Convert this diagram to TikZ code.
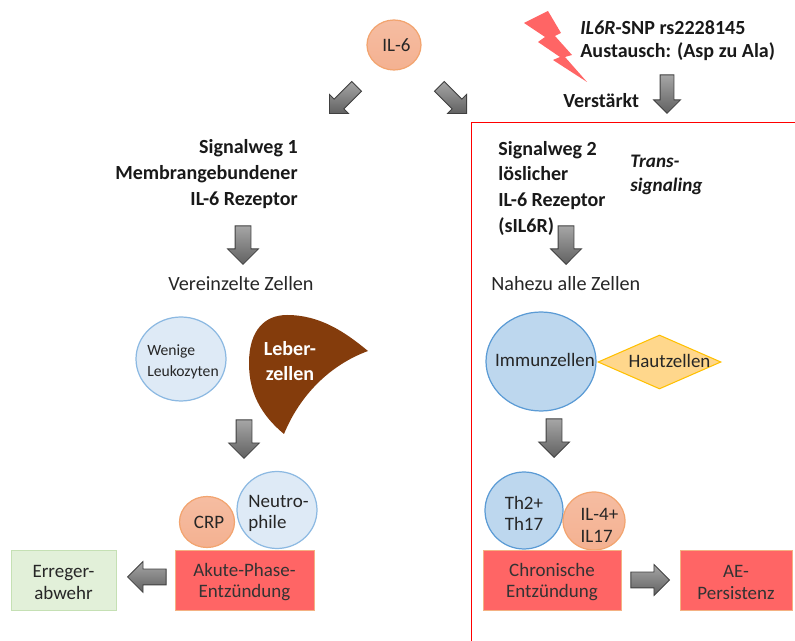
\documentclass[tikz,border=0pt]{standalone}
\usepackage{fontspec}
\setmainfont{Carlito}
\usetikzlibrary{shapes.geometric,shapes.arrows}
\definecolor{ocker}{RGB}{237,125,49}
\definecolor{lachs}{RGB}{244,177,145}
\definecolor{hellblau}{RGB}{222,234,246}
\definecolor{mittelblau}{RGB}{189,215,238}
\definecolor{randblau}{RGB}{140,185,226}
\definecolor{randmittel}{RGB}{91,155,213}
\definecolor{rot}{RGB}{255,101,101}
\definecolor{randrot}{RGB}{244,177,131}
\definecolor{braun}{RGB}{132,60,12}
\definecolor{gruen}{RGB}{226,240,217}
\definecolor{randgruen}{RGB}{197,224,180}
\definecolor{gelb}{RGB}{255,215,140}
\definecolor{randgelb}{RGB}{255,192,0}
\definecolor{schrift}{RGB}{38,38,38}
\newcommand{\tief}[1]{\rule{0pt}{#1cm}}
\tikzset{
  normal/.style={text=schrift,font=\fontsize{10.8}{12.2}\selectfont,align=center,inner sep=0pt},
  fett/.style={normal,font=\fontsize{11.4}{14}\selectfont\bfseries,text=black!90},
  zelle/.style={normal,ellipse,draw,line width=0.7pt,minimum width=#1,inner sep=-0.7cm},
  orangezelle/.style={zelle=#1,draw=ocker!70,top color=lachs!85!white,bottom color=lachs},
  hellzelle/.style={zelle=#1,draw=randblau,fill=hellblau},
  blauzelle/.style={zelle=#1,draw=randmittel,fill=mittelblau},
  feld/.style={normal,rectangle,draw=randrot,line width=0.5pt,fill=rot,minimum height=1.2cm,text=black!80},
  pfeil/.style={single arrow,draw=black!75,line width=0.5pt,top color=black!35,bottom color=black!62,
    inner sep=0.13cm,minimum height=0.77cm,single arrow head extend=0.13cm,
    single arrow head indent=0pt,anchor=tip},
  grosspfeil/.style={pfeil,inner sep=0.15cm,single arrow head extend=0.15cm},
}
\begin{document}
\begin{tikzpicture}[x=0.02cm,y=-0.02cm]
\useasboundingbox (0,0) rectangle (795,641);

% Rahmen rechts
\draw [red,line width=0.55pt] (471,641) -- (471,122) -- (795,122);

% oben
\node [orangezelle=1.08cm,minimum height=1cm] (il6) at (394,45) {\hspace*{0.1cm}IL-6};
\node [pfeil,rotate=-135] (pfeilA) at (329,114) {};
\node [pfeil,rotate=-45] (pfeilB) at (467,114) {};
\fill [rot] (524,23) -- (548,11) -- (561,33) -- (555,36) -- (572,55) -- (565,57) -- (587,82)
  -- (553,60) -- (560,57) -- (538,42) -- (545,37) -- cycle;
\node [fett,anchor=west] (snp) at (580,28) {\textit{IL6R}-SNP rs2228145};
\node [fett,anchor=west] (austausch) at (580,52) {Austausch: (Asp zu Ala)};
\node [fett,anchor=west] (verstaerkt) at (563,101) {Verstärkt};
\node [pfeil,rotate=-90] (pfeilC) at (667,114) {};

% Signalweg 1
\node [fett,align=right,anchor=east] (weg1) at (298,174) {Signalweg 1\\[0.02cm]Membrangebundener\\[0.02cm]IL-6 Rezeptor};
\node [grosspfeil,rotate=-90] (pfeilD) at (243,265) {};
\node [normal,font=\fontsize{11.5}{13}\selectfont] (vereinzelt) at (241,284) {Vereinzelte Zellen};
\node [hellzelle=1.8cm,minimum height=1.68cm,font=\fontsize{8.9}{12}\selectfont,align=left] (wenige) at (181,359) {\hspace*{0.08cm}\tief{0.32}Wenige\\\hspace*{0.08cm}Leukozyten};
\fill [braun] (284,434) .. controls (255,410) and (249,385) .. (249,363)
  .. controls (249,330) and (265,315) .. (287,315)
  .. controls (320,315) and (345,332) .. (368,351)
  .. controls (330,365) and (300,395) .. (284,434) -- cycle;
\node [fett,text=white] (leber) at (290,361) {Leber-\\zellen};
\node [grosspfeil,rotate=-90] (pfeilE) at (244,459) {};
\node [hellzelle=1.6cm,minimum height=1.54cm,align=left] (neutro) at (277,510) {\hspace*{0.06cm}\tief{0.38}Neutro-\\\hspace*{0.06cm}phile};
\node [orangezelle=1.1cm,minimum height=1.02cm] (crp) at (207,522) {\hspace*{0.08cm}CRP};
\node [feld,minimum width=2.78cm] (akut) at (244.5,580) {\tief{0.34}Akute-Phase-\\Entzündung};
\node [grosspfeil,rotate=180] (pfeilF) at (127,577) {};
\node [feld,draw=randgruen,fill=gruen,minimum width=2.1cm,text=schrift] (erreger) at (63.5,580) {\tief{0.34}Erreger-\\abwehr};

% Signalweg 2
\node [fett,align=left,anchor=north west] (weg2) at (498,141) {Signalweg 2\\[0.02cm]löslicher\\[0.02cm]IL-6 Rezeptor\\[0.02cm](sIL6R)};
\node [fett,align=left,anchor=west,font=\fontsize{10.9}{14}\selectfont\bfseries\itshape] (trans) at (630,175) {Trans-\\signaling};
\node [grosspfeil,rotate=-90] (pfeilG) at (566,265) {};
\node [normal,font=\fontsize{11.5}{13}\selectfont,anchor=west] (nahezu) at (491,284) {Nahezu alle Zellen};
\node [blauzelle=2.2cm,minimum height=1.98cm] (immun) at (541,361.5) {\hspace*{0.16cm}\raisebox{0.06cm}{Immunzellen}};
\node [normal,diamond,aspect=2.28,draw=randgelb,fill=gelb,line width=0.6pt,inner sep=-0.8cm,minimum width=2.46cm,minimum height=1.08cm] (haut) at (659.5,362) {\hspace*{0.4cm}\raisebox{0.04cm}{Hautzellen}};
\node [grosspfeil,rotate=-90] (pfeilH) at (554,458) {};
\node [blauzelle=1.56cm,minimum height=1.54cm,align=left] (th) at (524,510.5) {\tief{0.38}Th2+\\Th17};
\node [orangezelle=1.24cm,minimum height=1.16cm,align=left] (il4) at (594,521) {\hspace*{0.22cm}\tief{0.42}IL-4+\\\hspace*{0.22cm}IL17};
\node [feld,minimum width=2.76cm] (chron) at (552,580) {\tief{0.34}Chronische\\Entzündung};
\node [grosspfeil] (pfeilI) at (670,580) {};
\node [feld,minimum width=2.24cm] (ae) at (736,580) {\tief{0.34}AE-\\Persistenz};
\end{tikzpicture}
\end{document}
